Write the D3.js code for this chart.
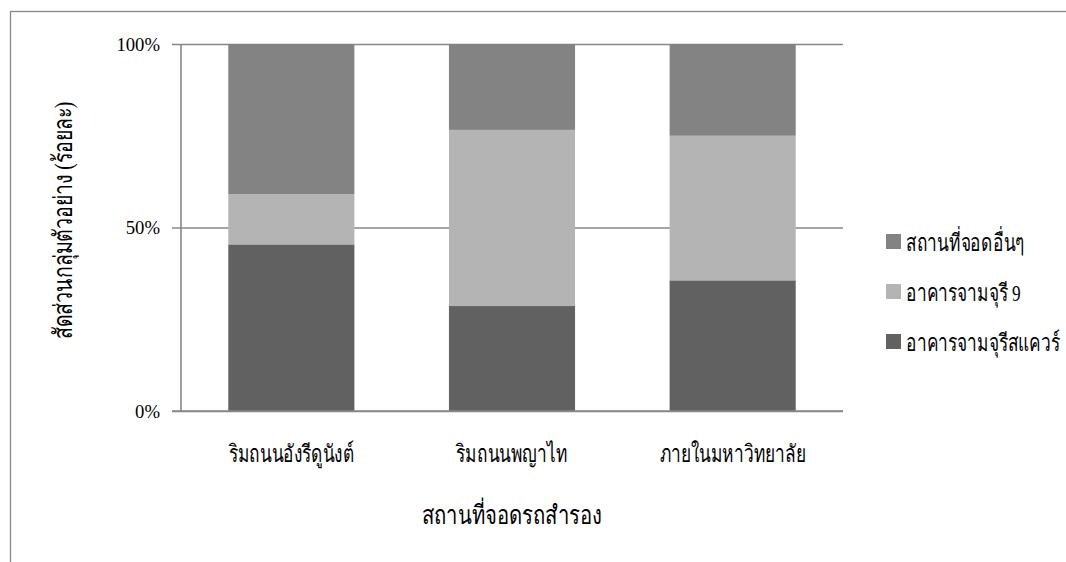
<!DOCTYPE html>
<html>
<head>
<meta charset="utf-8">
<script src="https://cdn.jsdelivr.net/npm/d3@7"></script>
<style>
  html, body { margin: 0; padding: 0; background: #fff; }
  svg { display: block; }
  text { font-family: "Liberation Serif", "Times New Roman", serif; fill: #000; }
</style>
</head>
<body>
<svg id="chart" width="1066" height="562"></svg>
<script>
// ---- data ----
const categories = ["ริมถนนอังรีดูนังต์", "ริมถนนพญาไท", "ภายในมหาวิทยาลัย"];
const seriesNames = ["อาคารจามจุรีสแควร์", "อาคารจามจุรี 9", "สถานที่จอดอื่นๆ"];
const chamchuriSquare = [45.4, 28.6, 35.6];
const chamchuri9 = [13.7, 48.0, 39.4];
const otherParking = [40.9, 23.4, 25.0];
const yTicks = [0, 0.5, 1];
const xTitle = "สถานที่จอดรถสำรอง";
const yTitle = "สัดส่วนกลุ่มตัวอย่าง (ร้อยละ)";
const colors = ["#616161", "#b4b4b4", "#838383"];

const rows = categories.map((c, i) => ({
  cat: c,
  [seriesNames[0]]: chamchuriSquare[i],
  [seriesNames[1]]: chamchuri9[i],
  [seriesNames[2]]: otherParking[i]
}));

const svg = d3.select("#chart");
const plot = { left: 181, right: 843, top: 44, bottom: 411 };
const SX = 0.72; // narrow look of the original Thai face

// outer frame
svg.append("rect")
  .attr("x", 10.5).attr("y", 11.5)
  .attr("width", 1200).attr("height", 1200)
  .attr("fill", "none").attr("stroke", "#878787").attr("stroke-width", 1.3);

const x = d3.scaleBand().domain(categories)
  .range([plot.left, plot.right])
  .paddingInner(0.75 / 1.75).paddingOuter(0.375 / 1.75);
const y = d3.scaleLinear().domain([0, 1]).range([plot.bottom, plot.top]);

const stacked = d3.stack().keys(seriesNames).offset(d3.stackOffsetExpand)(rows);

// gridlines + y axis
const yAxis = d3.axisLeft(y).tickValues(yTicks).tickFormat(d3.format(".0%"))
  .tickSize(-(plot.right - plot.left)).tickPadding(21);
const gy = svg.append("g").attr("transform", `translate(${plot.left},0)`).call(yAxis);
gy.select(".domain").remove();
gy.selectAll(".tick line")
  .attr("x1", -9)
  .attr("stroke", "#878787").attr("stroke-width", 1.6);
gy.selectAll(".tick text")
  .style("font-size", "18.7px").attr("dy", "0.33em");

// bars
svg.append("g").selectAll("g").data(stacked).join("g")
  .attr("fill", (d, i) => colors[i])
  .selectAll("rect").data(d => d).join("rect")
  .attr("x", d => x(d.data.cat))
  .attr("width", x.bandwidth())
  .attr("y", d => y(d[1]))
  .attr("height", d => y(d[0]) - y(d[1]));

// y axis line
svg.append("line")
  .attr("x1", plot.left).attr("x2", plot.left)
  .attr("y1", plot.top).attr("y2", plot.bottom)
  .attr("stroke", "#878787").attr("stroke-width", 1.6);

// x axis baseline
svg.append("line")
  .attr("x1", plot.left - 9).attr("x2", plot.right)
  .attr("y1", plot.bottom).attr("y2", plot.bottom)
  .attr("stroke", "#878787").attr("stroke-width", 1.6);

// category labels
const xAxis = d3.axisBottom(x).tickSize(0).tickPadding(0);
const gx = svg.append("g").attr("transform", `translate(0,${plot.bottom})`).call(xAxis);
gx.select(".domain").remove();
gx.selectAll(".tick text")
  .attr("y", 51).attr("dy", 0)
  .attr("transform", `scale(${SX},1)`)
  .style("font-size", "24px");

// axis titles
svg.append("text")
  .attr("transform", `translate(${(plot.left + plot.right) / 2},524) scale(0.78,1)`)
  .attr("text-anchor", "middle")
  .style("font-size", "26px")
  .text(xTitle);

svg.append("text")
  .attr("transform", `translate(72,${(plot.top + plot.bottom) / 2 - 7}) rotate(-90) scale(0.75,1)`)
  .attr("text-anchor", "middle")
  .style("font-size", "26px")
  .text(yTitle);

// legend (top series first)
const legendOrder = [2, 1, 0];
const lg = svg.append("g").selectAll("g").data(legendOrder).join("g")
  .attr("transform", (d, i) => `translate(886,${234 + i * 50})`);
lg.append("rect").attr("width", 15).attr("height", 15).attr("fill", d => colors[d]);
lg.append("text")
  .attr("transform", `translate(20,17) scale(${SX},1)`)
  .style("font-size", "24px")
  .text(d => seriesNames[d]);
</script>
</body>
</html>
